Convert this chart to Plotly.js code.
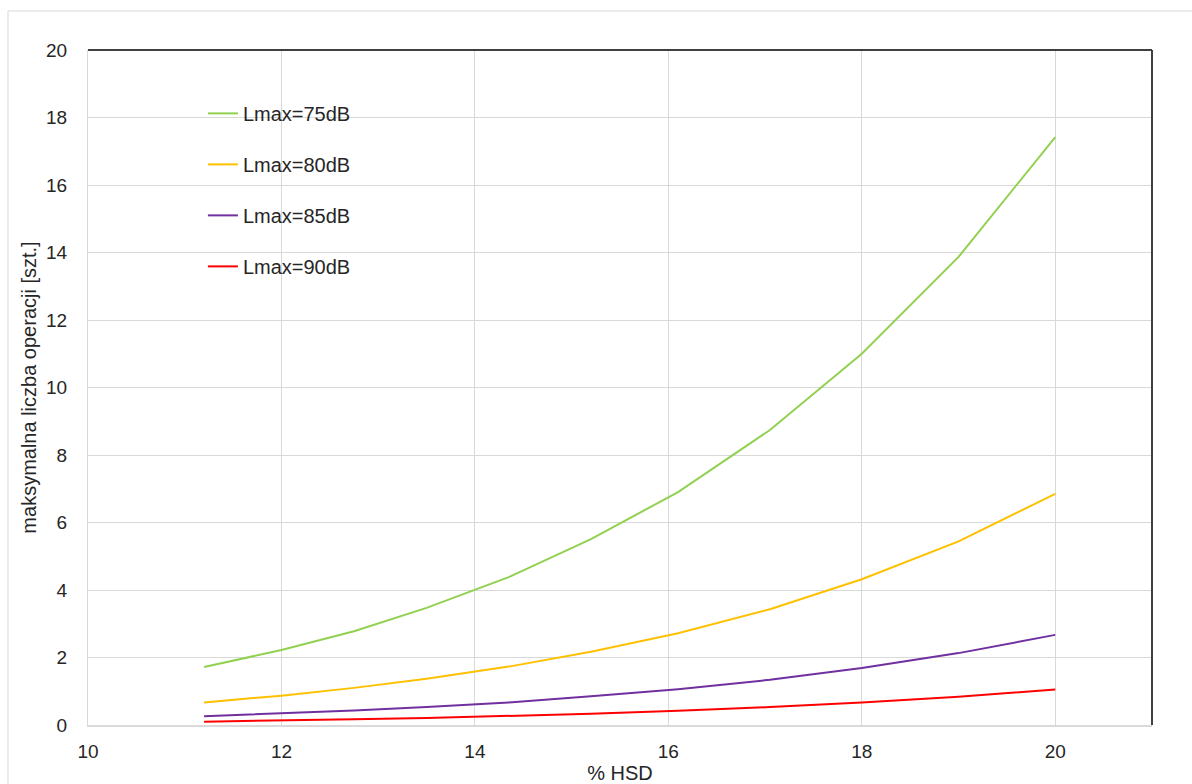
<!DOCTYPE html>
<html>
<head>
<meta charset="utf-8">
<script src="https://cdn.plot.ly/plotly-3.0.1.min.js"></script>
<style>
  html, body { margin: 0; padding: 0; background: #ffffff; }
  #chart { width: 1192px; height: 784px; }
</style>
</head>
<body>
<div id="chart"></div>
<script>
// % HSD values (x)
const hsd = [11.2, 12.0, 12.75, 13.5, 14.35, 15.2, 16.1, 17.05, 18.0, 19.0, 20.0];

// maksymalna liczba operacji [szt.]
const lmax75 = [1.72, 2.22, 2.78, 3.47, 4.38, 5.51, 6.90, 8.74, 11.0, 13.87, 17.42];
const lmax80 = [0.67, 0.87, 1.10, 1.37, 1.73, 2.17, 2.72, 3.43, 4.32, 5.44, 6.85];
const lmax85 = [0.26, 0.34, 0.43, 0.53, 0.67, 0.85, 1.06, 1.34, 1.69, 2.13, 2.67];
const lmax90 = [0.10, 0.13, 0.17, 0.21, 0.27, 0.33, 0.42, 0.53, 0.67, 0.84, 1.05];

const seriesNames = ['Lmax=75dB', 'Lmax=80dB', 'Lmax=85dB', 'Lmax=90dB'];
const seriesValues = [lmax75, lmax80, lmax85, lmax90];
const seriesColors = ['#92D050', '#FFC000', '#7030A0', '#FF0000'];

const xTicks = [10, 12, 14, 16, 18, 20];
const yTicks = [0, 2, 4, 6, 8, 10, 12, 14, 16, 18, 20];

const traces = seriesNames.map((name, i) => ({
  x: hsd,
  y: seriesValues[i],
  name: name,
  type: 'scatter',
  mode: 'lines',
  legendgroup: 'g' + i,
  line: { color: seriesColors[i], width: 2 }
}));

const font = { family: '"Liberation Sans", Arial, sans-serif', size: 19, color: '#262626' };

const layout = {
  width: 1192,
  height: 784,
  margin: { l: 88, r: 40, t: 50, b: 59, pad: 0 },
  paper_bgcolor: '#ffffff',
  plot_bgcolor: '#ffffff',
  font: font,
  showlegend: true,
  legend: {
    x: 0.108, y: 0.935, xanchor: 'left', yanchor: 'top',
    bgcolor: 'rgba(0,0,0,0)',
    font: { family: font.family, size: 20, color: '#262626' },
    tracegroupgap: 22,
    itemwidth: 30
  },
  xaxis: {
    range: [10, 21],
    tickvals: xTicks,
    ticktext: xTicks.map(String),
    showgrid: true,
    gridcolor: '#d9d9d9',
    gridwidth: 1,
    zeroline: false,
    showline: true,
    linecolor: '#d9d9d9',
    linewidth: 2,
    ticks: '',
    ticklabelstandoff: 8,
    tickfont: { family: font.family, size: 19, color: '#262626' },
    title: { text: '% HSD', font: { family: font.family, size: 20, color: '#262626' }, standoff: 6 },
    fixedrange: true
  },
  yaxis: {
    range: [0, 20],
    tickvals: yTicks,
    ticktext: yTicks.map(String),
    showgrid: true,
    gridcolor: '#d9d9d9',
    gridwidth: 1,
    zeroline: false,
    showline: true,
    linecolor: '#d9d9d9',
    linewidth: 1,
    ticks: '',
    ticklabelstandoff: 16,
    tickfont: { family: font.family, size: 19, color: '#262626' },
    title: { text: 'maksymalna liczba operacji [szt.]', font: { family: font.family, size: 20, color: '#262626' }, standoff: 4 },
    fixedrange: true
  },
  shapes: [
    { type: 'line', xref: 'paper', yref: 'paper', x0: 0, x1: 1, y0: 1, y1: 1, line: { color: '#404040', width: 2 } },
    { type: 'line', xref: 'paper', yref: 'paper', x0: 1, x1: 1, y0: 0, y1: 1, line: { color: '#404040', width: 2 } },
    { type: 'line', xref: 'paper', yref: 'paper', x0: -0.0752, x1: 1.2, y0: 1.0578, y1: 1.0578, line: { color: '#d9d9d9', width: 1 } },
    { type: 'line', xref: 'paper', yref: 'paper', x0: -0.0752, x1: -0.0752, y0: -0.2, y1: 1.0578, line: { color: '#d9d9d9', width: 1 } }
  ]
};

Plotly.newPlot('chart', traces, layout, { displayModeBar: false, staticPlot: true });
</script>
</body>
</html>
